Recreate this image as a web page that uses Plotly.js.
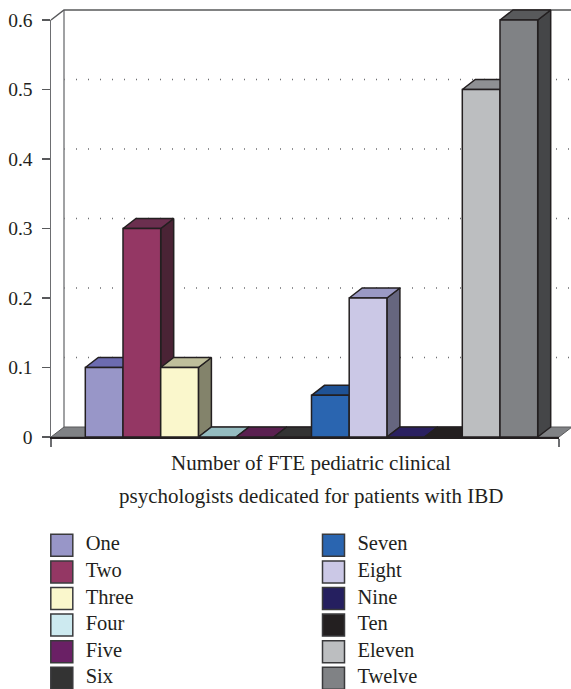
<!DOCTYPE html>
<html>
<head>
<meta charset="utf-8">
<script src="https://cdn.plot.ly/plotly-3.0.1.min.js"></script>
<style>html,body{margin:0;padding:0;background:#fff;overflow:hidden}#chart{width:571px;height:689px}</style>
</head>
<body>
<div id="chart"></div>
<script>
const categories = ["One","Two","Three","Four","Five","Six","Seven","Eight","Nine","Ten","Eleven","Twelve"];
const values = [0.1,0.3,0.1,0,0,0,0.06,0.2,0,0,0.5,0.6];
const frontColors = ["#9896c8","#943764","#faf7cc","#cdeaf0","#6a2065","#333333","#2a65b0","#cbc8e6","#251f5f","#231f20","#bcbec0","#808285"];
const topColors = ["#6c6bb0","#6b2f4f","#bfbf9b","#95bcc0","#5a2050","#333333","#1f5295","#9a99c4","#2a2060","#231f20","#8e9093","#58595b"];
const sideColors = ["#4e4e72","#4a2335","#83836b","#6b8a8e","#3f1a3a","#222222","#173c6c","#66667f","#1a1640","#1a1718","#66686a","#454648"];
const yTicks = [0,0.1,0.2,0.3,0.4,0.5,0.6];
const yTickText = ["0","0.1","0.2","0.3","0.4","0.5","0.6"];
const titleLines = ["Number of FTE pediatric clinical","psychologists dedicated for patients with IBD"];

const W = 571, H = 689;
const pxFrontL = 51, pxFrontR = 559, pxY0 = 437, pxYTop = 20;
const barPx = 37.7;
const xMax = (pxFrontR - pxFrontL) / barPx;
const pxPerUnitY = (pxY0 - pxYTop) / 0.6;
const DX = 13 / barPx, DY = 10 / pxPerUnitY;
const firstBar = (85.3 - pxFrontL) / barPx;
const ink = "#231f20", grey = "#808285";

// data subplot is a little larger than the frame so nothing is cut at the wall edges
const dataL = 46, dataR = 571, dataT = 6, dataB = 442;
const xDataRange = [(dataL - pxFrontL) / barPx, (dataR - pxFrontL) / barPx];
const yDataRange = [(pxY0 - dataB) / pxPerUnitY, (pxY0 - dataT) / pxPerUnitY];

const traces = [];
const poly = (xs, ys, fill, name, lineColor, lw) => traces.push({
  type:"scatter", mode:"lines", x:xs, y:ys, fill:"toself", fillcolor:fill,
  line:{color:lineColor||ink,width:lw===undefined?1.5:lw}, name:name, showlegend:false,
  hoverinfo:"skip", xaxis:"x", yaxis:"y"
});
const line = (xs, ys, color, width, dash) => traces.push({
  type:"scatter", mode:"lines", x:xs, y:ys, line:{color:color,width:width,dash:dash||"solid"},
  showlegend:false, hoverinfo:"skip", xaxis:"x", yaxis:"y"
});

// back wall, gridlines
yTicks.slice(1,-1).forEach(v => line([DX, xMax+DX],[v+DY, v+DY],"#6d6e71",1.3,"1px,11px"));
line([DX,DX],[DY,0.6+DY],grey,1.5);
line([xMax+DX,xMax+DX],[DY,0.6+DY],"#bcbec0",1);
line([0,DX,xMax+DX],[0.6,0.6+DY,0.6+DY],"#58595b",1.5);
// floor
poly([0,xMax,xMax+DX,DX,0],[0,0,DY,DY,0],grey,"floor","#58595b",1);

// bars, left to right
categories.forEach((c,i) => {
  const a = firstBar + i, b = a + 1, v = values[i];
  if (v > 0) poly([b,b+DX,b+DX,b,b],[0,DY,v+DY,v,0],sideColors[i],c);
  poly([a,b,b+DX,a+DX,a],[v,v,v+DY,v+DY,v],topColors[i],c);
  if (v > 0) poly([a,b,b,a,a],[0,0,v,v,0],frontColors[i],c);
});

// key
const rows = categories.length / 2;
const colOf = i => Math.floor(i / rows), rowOf = i => i % rows;
traces.push({
  type:"scatter", mode:"markers", x:categories.map((c,i)=>colOf(i)), y:categories.map((c,i)=>rowOf(i)),
  marker:{symbol:"square",size:22,color:frontColors,line:{color:"#3a3a3c",width:1.5}},
  xaxis:"x2", yaxis:"y2", showlegend:false, cliponaxis:false, hoverinfo:"skip"
});
traces.push({
  type:"scatter", mode:"text", x:categories.map((c,i)=>colOf(i)+0.088), y:categories.map((c,i)=>rowOf(i)),
  text:categories, textposition:"middle right", textfont:{family:"Liberation Serif",size:20.5,color:ink},
  xaxis:"x2", yaxis:"y2", showlegend:false, cliponaxis:false, hoverinfo:"skip"
});
// frame axes carry the front axis lines, ticks and labels
traces.push({type:"scatter",mode:"none",x:[0],y:[0],xaxis:"x3",yaxis:"y3",showlegend:false,hoverinfo:"skip"});

const layout = {
  width:W, height:H, margin:{l:0,r:0,t:0,b:0,pad:0}, paper_bgcolor:"#fff", plot_bgcolor:"rgba(0,0,0,0)",
  showlegend:false,
  font:{family:"Liberation Serif",color:ink,size:19},
  xaxis:{domain:[dataL/W,dataR/W],range:xDataRange,visible:false,fixedrange:true,anchor:"y"},
  yaxis:{domain:[(H-dataB)/H,(H-dataT)/H],range:yDataRange,visible:false,fixedrange:true,anchor:"x"},
  xaxis2:{domain:[0,1],range:[-61.8/271.7,(W-61.8)/271.7],visible:false,fixedrange:true,anchor:"y2"},
  yaxis2:{domain:[0,169/H],range:[(H-545.3)/26.6,(520-545.3)/26.6],visible:false,fixedrange:true,anchor:"x2"},
  xaxis3:{domain:[pxFrontL/W,pxFrontR/W],range:[0,xMax],anchor:"y3",showgrid:false,zeroline:false,showline:true,linecolor:ink,linewidth:1.5,
    tickmode:"array",tickvals:[0,xMax],ticktext:["",""],ticks:"outside",ticklen:8,tickcolor:"#6d6e71",tickwidth:1.5,fixedrange:true},
  yaxis3:{domain:[(H-pxY0)/H,(H-pxYTop)/H],range:[0,0.6],anchor:"x3",showgrid:false,zeroline:false,showline:true,linecolor:"#6d6e71",linewidth:1.5,
    tickmode:"array",tickvals:yTicks,ticktext:yTickText,ticks:"outside",ticklen:8,tickcolor:"#58595b",tickwidth:1.3,ticklabelstandoff:5,
    tickfont:{family:"Liberation Serif",size:19.5,color:ink},fixedrange:true},
  annotations:titleLines.map((t,i)=>({
    text:t, xref:"paper", yref:"paper", x:310.5/W, y:(H-(463+33*i))/H, xanchor:"center", yanchor:"middle",
    showarrow:false, font:{family:"Liberation Serif",size:21,color:ink}
  }))
};
Plotly.newPlot("chart",traces,layout,{displayModeBar:false,staticPlot:true});
</script>
</body>
</html>
